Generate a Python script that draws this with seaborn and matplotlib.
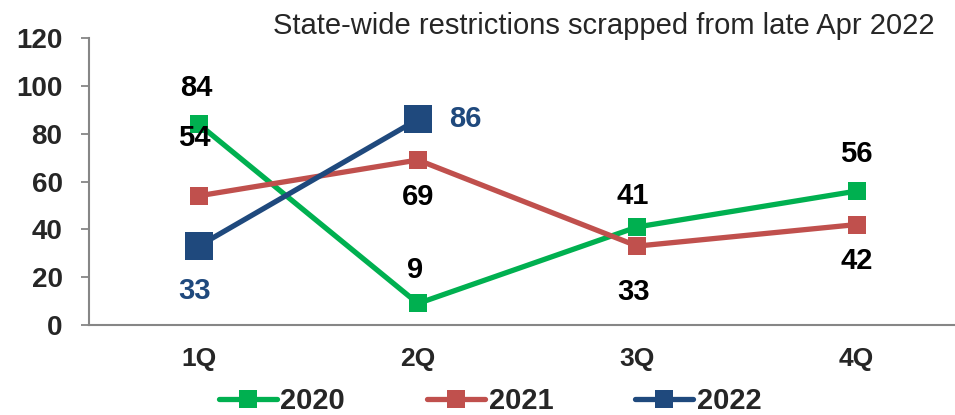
import numpy as np
import pandas as pd
import matplotlib
matplotlib.use("Agg")
import matplotlib.pyplot as plt
import seaborn as sns

categories = ["1Q", "2Q", "3Q", "4Q"]
v2020 = [84, 9, 41, 56]
v2021 = [54, 69, 33, 42]
v2022 = [33, 86]
series_names = ["2020", "2021", "2022"]
title_text = "State-wide restrictions scrapped from late Apr 2022"
yticks = [0, 20, 40, 60, 80, 100, 120]

sns.set_theme(style="white")
plt.rcParams['font.family'] = ['Liberation Sans', 'DejaVu Sans']

fig = plt.figure(figsize=(9.55, 4.15), dpi=100)
ax = fig.add_axes([89/955, 1 - 325/415, 1 - 89/955, (325 - 38)/415])

colors = ["#00B050", "#C0504D", "#1F497D"]
msizes = [13, 13, 20]
all_vals = [v2020, v2021, v2022]

for name, vals, c, ms in zip(series_names, all_vals, colors, msizes):
    df = pd.DataFrame({"x": np.arange(len(vals)), "y": vals})
    sns.lineplot(data=df, x="x", y="y", ax=ax, color=c, linewidth=3.8,
                 marker="s", markersize=ms, markeredgewidth=0, label=name,
                 zorder=3)

lab_fs = 21
def lab(vals, i, dx, dy, color="black"):
    ax.annotate(str(vals[i]), (i, vals[i]), xytext=(dx, dy), textcoords="offset points",
                ha="center", va="center", fontsize=lab_fs, fontweight="bold", color=color)

lab(v2020, 0, -2, 26)
lab(v2021, 0, -3, 42)
lab(v2022, 0, -3, -32, "#1F497D")
lab(v2022, 1, 34, 0, "#1F497D")
lab(v2021, 1, 0, -27)
lab(v2020, 1, -2, 24)
lab(v2020, 2, -3, 22)
lab(v2021, 2, -3, -33)
lab(v2020, 3, 0, 27)
lab(v2021, 3, 0, -26)

ax.set_xlim(-0.5, (955 - 198) / 219.5)
ax.set_ylim(0, 120)
ax.set_yticks(yticks)
ax.set_yticklabels([str(t) for t in yticks], fontsize=20, fontweight="bold")
ax.set_xticks(np.arange(len(categories)))
ax.set_xticklabels(categories, fontsize=19, fontweight="bold")
ax.set_xticks(np.arange(len(categories)) - 0.5, minor=True)
ax.tick_params(axis="x", which="major", length=0, pad=16)
ax.tick_params(axis="x", which="minor", length=6, width=1.3, color="#868686", direction="out")
ax.tick_params(axis="y", length=6, width=1.3, color="#868686", direction="out", pad=13, left=True)
ax.set_xlabel("")
ax.set_ylabel("")
for s in ["top", "right"]:
    ax.spines[s].set_visible(False)
for s in ["left", "bottom"]:
    ax.spines[s].set_color("#868686")
    ax.spines[s].set_linewidth(1.5)

ax.text(935/955, 1 - 26/415, title_text, transform=fig.transFigure, ha="right", va="center",
        fontsize=21)

ax.get_legend().remove()
handles, labels = ax.get_legend_handles_labels()
leg = fig.legend(handles, labels, loc="center", bbox_to_anchor=(490/955, 1 - 401/415), ncol=3,
                 frameon=False, prop={"weight": "bold", "size": 21}, columnspacing=2.8,
                 handlelength=2.0, handletextpad=0.12)
for h in leg.legend_handles:
    h.set_markersize(13)

fig.savefig("out.png", dpi=100)
